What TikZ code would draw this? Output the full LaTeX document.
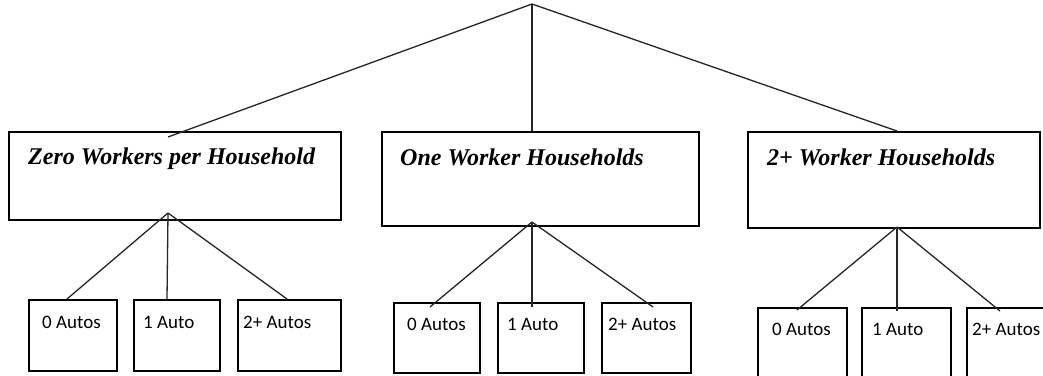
\documentclass[tikz,border=0pt]{standalone}
\usepackage{fontspec}
\setmainfont{Liberation Serif}
\newfontfamily\autofont{Carlito}
\usetikzlibrary{calc}

\tikzset{
  groupbox/.style={draw=black, line width=1.5pt, anchor=north west, inner sep=0pt},
  subbox/.style={draw=black, line width=1.5pt, anchor=north west, inner sep=0pt},
  grouptext/.style={anchor=base west, inner sep=0pt,
    font=\fontsize{24}{28}\selectfont\bfseries\itshape},
  subtext/.style={anchor=base west, inner sep=0pt,
    font=\autofont\fontsize{19}{22}\selectfont},
  link/.style={draw=black!85, line width=1.3pt, line join=round}
}

\begin{document}
\begin{tikzpicture}[x=1pt, y=-1pt]
  \useasboundingbox (0,0) rectangle (1043,375);
  \clip (0,0) rectangle (1043,375);
  \fill[white] (0,0) rectangle (1043,375);

  % household groups
  \node[groupbox, minimum width=332pt, minimum height=88pt] (zero) at (8,131) {};
  \node[groupbox, minimum width=317pt, minimum height=94pt] (one)  at (381,131) {};
  \node[groupbox, minimum width=292pt, minimum height=96pt] (two)  at (747,131) {};
  \node[grouptext] (zerot) at ($(zero.north west)+(20,33)$) {Zero Workers per Household};
  \node[grouptext] (onet)  at ($(one.north west)+(19,34)$)  {One Worker Households};
  \node[grouptext] (twot)  at ($(two.north west)+(20,34)$)  {2+ Worker Households};

  % auto ownership under zero workers
  \node[subbox, minimum width=88pt,  minimum height=71pt] (z0) at (28,299) {};
  \node[subbox, minimum width=86pt,  minimum height=71pt] (z1) at (133,299) {};
  \node[subbox, minimum width=103pt, minimum height=71pt] (z2) at (237,299) {};
  \node[subtext] (z0t) at ($(z0.north west)+(14,29)$) {0 Autos};
  \node[subtext] (z1t) at ($(z1.north west)+(10,29)$) {1 Auto};
  \node[subtext] (z2t) at ($(z2.north west)+(6,29)$)  {2+ Autos};

  % auto ownership under one worker
  \node[subbox, minimum width=86pt, minimum height=70pt] (o0) at (393,302) {};
  \node[subbox, minimum width=86pt, minimum height=70pt] (o1) at (497,302) {};
  \node[subbox, minimum width=89pt, minimum height=70pt] (o2) at (601,302) {};
  \node[subtext] (o0t) at ($(o0.north west)+(14,28)$) {0 Autos};
  \node[subtext] (o1t) at ($(o1.north west)+(10,28)$) {1 Auto};
  \node[subtext] (o2t) at ($(o2.north west)+(7,28)$)  {2+ Autos};

  % auto ownership under two or more workers
  \node[subbox, minimum width=89pt, minimum height=72pt] (t0) at (757,307) {};
  \node[subbox, minimum width=89pt, minimum height=72pt] (t1) at (861,307) {};
  \node[subbox, minimum width=89pt, minimum height=72pt] (t2) at (966,307) {};
  \node[subtext] (t0t) at ($(t0.north west)+(15,28)$) {0 Autos};
  \node[subtext] (t1t) at ($(t1.north west)+(11,28)$) {1 Auto};
  \node[subtext] (t2t) at ($(t2.north west)+(6,28)$)  {2+ Autos};

  % branching points
  \coordinate (root) at (532,4);
  \coordinate (jz) at (168,213);
  \coordinate (jo) at (532,222);
  \coordinate (jt) at (897,227);

  % top level branches
  \draw[link] (root) -- ($(zero.north west)+(160,6)$);
  \draw[link] (root) -- (one.north west -| root);
  \draw[link] (root) -- ($(two.north west)+(150,0)$);

  % second level branches
  \draw[link] (jz) -- ($(z0.north west)+(39,0)$);
  \draw[link] (jz) -- ($(z1.north west)+(34,0)$);
  \draw[link] (jz) -- ($(z2.north west)+(50,0)$);

  \draw[link] (jo) -- ($(o0.north west)+(37,5)$);
  \draw[link] (jo) -- ($(o1.north west)+(35,5)$);
  \draw[link] (jo) -- ($(o2.north west)+(52,5)$);

  \draw[link] (jt) -- ($(t0.north west)+(40,3)$);
  \draw[link] (jt) -- ($(t1.north west)+(36,4)$);
  \draw[link] (jt) -- ($(t2.north west)+(34,4)$);
\end{tikzpicture}
\end{document}
